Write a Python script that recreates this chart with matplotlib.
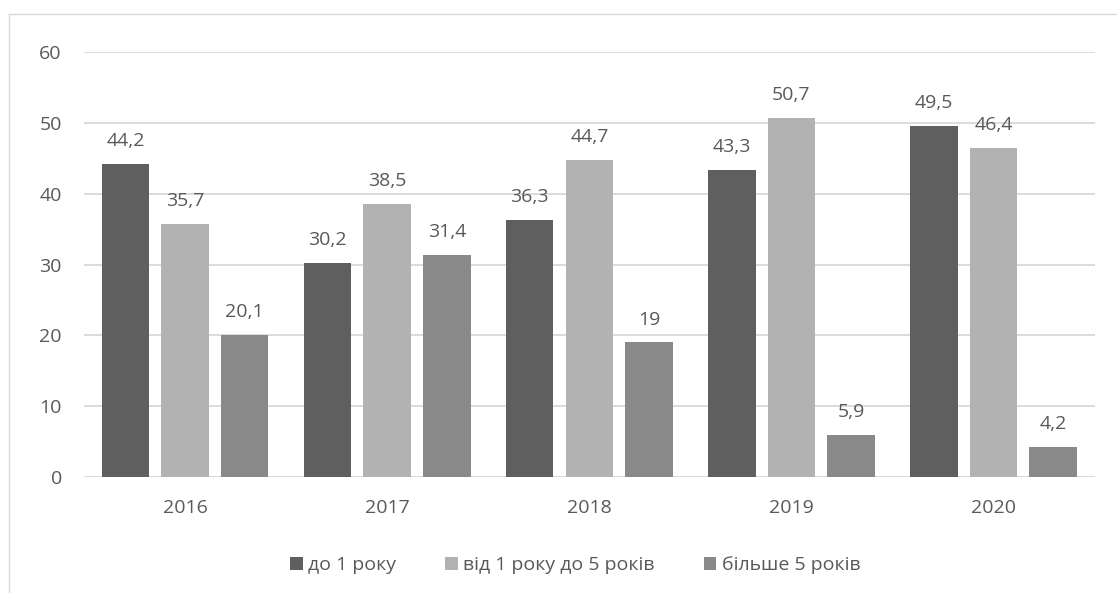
import matplotlib.pyplot as plt
import matplotlib.lines as mlines
import numpy as np

plt.rcParams['font.family'] = ['Open Sans', 'DejaVu Sans']

years = ['2016', '2017', '2018', '2019', '2020']
series_names = ['до 1 року', 'від 1 року до 5 років', 'більше 5 років']
up_to_1 = [44.2, 30.2, 36.3, 43.3, 49.5]
from_1_to_5 = [35.7, 38.5, 44.7, 50.7, 46.4]
over_5 = [20.1, 31.4, 19.0, 5.9, 4.2]

colors = ['#5f5f5f', '#b2b2b2', '#898989']
text_color = '#595959'

fig = plt.figure(figsize=(11.17, 5.93), dpi=100)
ax = fig.add_axes([0.0752, 0.1956, 0.9048, 0.7167])

x = np.arange(len(years))
width = 0.235
step = 0.295

def fmt(v):
    # whole numbers without decimals, comma as separator
    if float(v).is_integer():
        return '%d' % v
    return ('%.1f' % v).replace('.', ',')

for i, (vals, name) in enumerate(zip([up_to_1, from_1_to_5, over_5], series_names)):
    bars = ax.bar(x + (i - 1) * step, vals, width, color=colors[i], label=name, zorder=2)
    ax.bar_label(bars, labels=[fmt(v) for v in vals], padding=10,
                 fontsize=14, color=text_color)

ax.set_xlim(-0.5, len(years) - 0.5)
ax.set_ylim(0, 60)
ax.set_yticks(range(0, 61, 10))
ax.set_xticks(x)
ax.set_xticklabels(years)
ax.yaxis.grid(True, color='#d9d9d9', linewidth=1.3, zorder=0)
ax.tick_params(axis='both', length=0, labelsize=14, labelcolor=text_color)
ax.tick_params(axis='y', pad=16)
ax.tick_params(axis='x', pad=16)
for s in ax.spines.values():
    s.set_visible(False)
ax.axhline(0, color='#d9d9d9', linewidth=1.3, zorder=1)

fig.legend(loc='center', bbox_to_anchor=(0.515, 0.047), ncol=3, frameon=False,
           fontsize=14, labelcolor=text_color, handlelength=0.65, handleheight=0.65,
           handletextpad=0.3, columnspacing=2.5)

# outer chart border (top and left edges visible)
fig.add_artist(mlines.Line2D([0.008, 1.0], [0.977, 0.977], color='#d9d9d9', linewidth=1))
fig.add_artist(mlines.Line2D([0.008, 0.008], [0.0, 0.977], color='#d9d9d9', linewidth=1))

fig.savefig('out.png', dpi=100)
